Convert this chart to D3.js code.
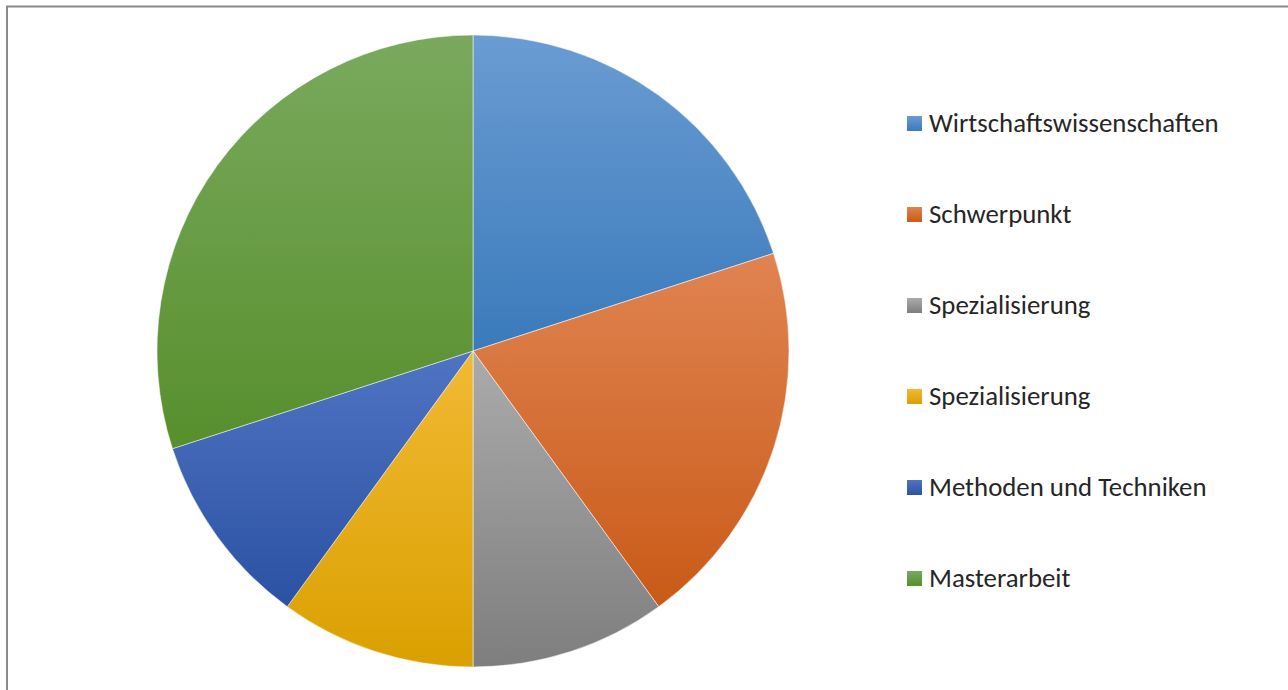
<!DOCTYPE html>
<html>
<head>
<meta charset="utf-8">
<script src="https://cdn.jsdelivr.net/npm/d3@7"></script>
<style>
  html, body { margin: 0; padding: 0; background: #fff; }
  svg { display: block; }
</style>
</head>
<body>
<svg width="1288" height="690"></svg>
<script>
const categories = ["Wirtschaftswissenschaften", "Schwerpunkt", "Spezialisierung", "Spezialisierung", "Methoden und Techniken", "Masterarbeit"]
const values = [24, 24, 12, 12, 12, 36]
const topColors = ["#6a9cd2", "#e08452", "#ababab", "#f2b935", "#4f74c2", "#7aa95e"]
const bottomColors = ["#3a7abb", "#c95a17", "#7e7e7e", "#daa000", "#2b51a3", "#578f2c"]

const svg = d3.select('svg')
const W = 1288, H = 690
const cx = 473, cy = 351, radius = 316

// chart frame
svg.append('rect')
  .attr('x', 7).attr('y', 6.5)
  .attr('width', W + 20).attr('height', H + 20)
  .attr('fill', 'none')
  .attr('stroke', '#8a8a8a')
  .attr('stroke-width', 2)

const defs = svg.append('defs')
categories.forEach((c, i) => {
  const g = defs.append('linearGradient')
    .attr('id', 'grad' + i)
    .attr('x1', 0).attr('y1', 0).attr('x2', 0).attr('y2', 1)
  g.append('stop').attr('offset', '0%').attr('stop-color', topColors[i])
  g.append('stop').attr('offset', '100%').attr('stop-color', bottomColors[i])
})

const pie = d3.pie().sort(null).value(d => d)
const arc = d3.arc().innerRadius(0).outerRadius(radius)

svg.append('g')
  .attr('transform', `translate(${cx},${cy})`)
  .selectAll('path')
  .data(pie(values))
  .join('path')
  .attr('d', arc)
  .attr('fill', (d, i) => `url(#grad${i})`)
  .attr('stroke', 'rgba(255,255,255,0.5)')
  .attr('stroke-width', 1)

// legend
const legendY = d3.scalePoint()
  .domain(d3.range(categories.length))
  .range([123, 578])

const legend = svg.append('g')
  .selectAll('g')
  .data(categories)
  .join('g')
  .attr('transform', (d, i) => `translate(907,${legendY(i)})`)

legend.append('rect')
  .attr('x', 0).attr('y', -7)
  .attr('width', 15).attr('height', 15)
  .attr('fill', (d, i) => `url(#grad${i})`)

legend.append('text')
  .attr('x', 22)
  .attr('y', 9)
  .attr('fill', '#262626')
  .style('font-family', 'Carlito, Calibri, Lato, sans-serif')
  .style('font-size', '26.8px')
  .text(d => d)
</script>
</body>
</html>
